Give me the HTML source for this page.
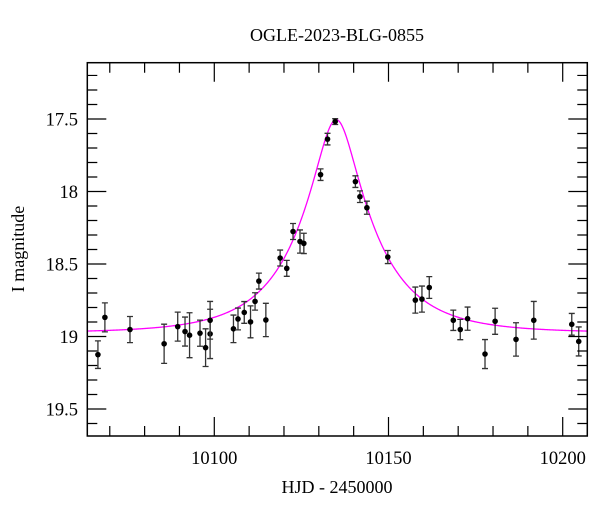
<!DOCTYPE html>
<html><head><meta charset="utf-8"><style>
html,body{margin:0;padding:0;background:#fff}
svg text{font-family:"Liberation Serif","DejaVu Serif",serif;fill:#000}
</style></head><body>
<svg id="chart" width="600" height="512" viewBox="0 0 600 512">
<text x="337" y="41" font-size="18" text-anchor="middle">OGLE-2023-BLG-0855</text>
<text x="337" y="493" font-size="18" text-anchor="middle">HJD - 2450000</text>
<text x="0" y="0" font-size="18" text-anchor="middle" transform="translate(24,249) rotate(-90)">I magnitude</text>
<g id="plot"></g>
</svg>
<script>
const hjd = [10066.6,10068.6,10075.8,10085.6,10089.5,10091.6,10092.9,10095.9,10097.5,10098.8,10098.8,10105.5,10106.8,10108.6,10110.4,10111.7,10112.8,10114.8,10118.9,10120.8,10122.6,10124.6,10125.7,10130.5,10132.5,10134.7,10140.5,10141.8,10143.8,10149.8,10157.7,10159.6,10161.7,10168.6,10170.6,10172.7,10177.7,10180.6,10186.6,10191.7,10202.6,10204.6];
const mag = [19.125,18.868,18.952,19.05,18.932,18.966,18.991,18.977,19.077,18.982,18.888,18.947,18.879,18.834,18.899,18.758,18.618,18.886,18.459,18.53,18.276,18.345,18.358,17.884,17.639,17.518,17.932,18.036,18.112,18.452,18.749,18.742,18.662,18.888,18.952,18.877,19.121,18.895,19.02,18.888,18.916,19.034];
const magErr = [0.095,0.1,0.09,0.135,0.1,0.1,0.155,0.09,0.13,0.17,0.13,0.095,0.075,0.075,0.11,0.06,0.055,0.115,0.055,0.055,0.055,0.08,0.07,0.04,0.04,0.02,0.04,0.04,0.045,0.045,0.09,0.09,0.075,0.07,0.07,0.08,0.1,0.09,0.115,0.13,0.075,0.1];
const xTicks = [10100,10150,10200];
const yTicks = [17.5,18,18.5,19,19.5];
const model = {t0:10135.0, tE:21.5, u0:0.265, base:18.975};

const L=87.3,R=587.3,T=62.7,B=436;
const xMin=10063.55,xMax=10207.06,yMin=17.112,yMax=19.686;
const sx=v=>L+(v-xMin)/(xMax-xMin)*(R-L);
const sy=v=>T+(v-yMin)/(yMax-yMin)*(B-T);
const NS="http://www.w3.org/2000/svg";
const g=document.getElementById('plot');
function mk(tag,attrs,parent){const e=document.createElementNS(NS,tag);for(const k in attrs)e.setAttribute(k,attrs[k]);(parent||g).appendChild(e);return e;}

let d="";
for(let i=0;i<=600;i++){const t=xMin+(xMax-xMin)*i/600;const tau=(t-model.t0)/model.tE;const u=Math.sqrt(model.u0*model.u0+tau*tau);const A=(u*u+2)/(u*Math.sqrt(u*u+4));const m=model.base-2.5*Math.log10(A);d+=(i?"L":"M")+sx(t).toFixed(2)+","+sy(m).toFixed(2);}
const curve=mk('path',{d:d,fill:'none',stroke:'#ff00ff','stroke-width':1.3});



for(let i=0;i<hjd.length;i++){
  const x=sx(hjd[i]),y=sy(mag[i]),y1=sy(mag[i]-magErr[i]),y2=sy(mag[i]+magErr[i]);
  const pg=mk('g',{});
  
  
  mk('path',{d:`M${x},${y1}V${y2}M${x-3},${y1}H${x+3}M${x-3},${y2}H${x+3}`,stroke:'#333','stroke-width':1.3,fill:'none'},pg);
  mk('circle',{cx:x,cy:y,r:2.8,fill:'#000'},pg);
}

const frame=mk('rect',{x:L,y:T,width:R-L,height:B-T,fill:'none',stroke:'#000','stroke-width':1.5});



let td="";
for(let v=10070;v<=10200;v+=10){const x=sx(v);const len=(v%50===0)?19:10;td+=`M${x},${B}V${B-len}M${x},${T}V${T+len}`;}
for(let k=172;k<=196;k++){const v=k/10;const y=sy(v);const len=(k%5===0)?19:10;td+=`M${L},${y}H${L+len}M${R},${y}H${R-len}`;}
const ticks=mk('path',{d:td,stroke:'#000','stroke-width':1.2,fill:'none'});



xTicks.forEach(v=>{const t=mk('text',{x:sx(v),y:464,'font-size':18.5,'text-anchor':'middle'});t.textContent=String(v);

});
yTicks.forEach(v=>{const t=mk('text',{x:78,y:sy(v)+6.5,'font-size':18.5,'text-anchor':'end'});t.textContent=String(v);

});
</script>
</body></html>
